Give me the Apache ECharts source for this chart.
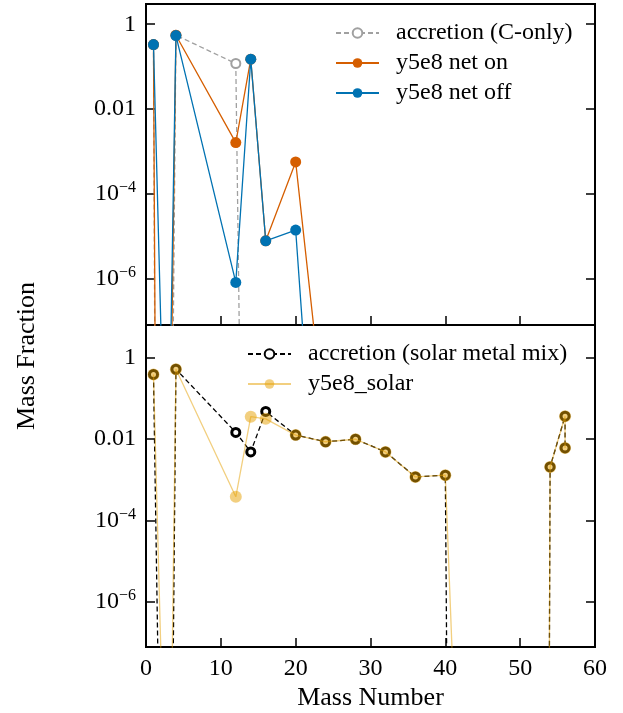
<!DOCTYPE html>
<html>
<head>
<meta charset="utf-8">
<script src="https://cdn.jsdelivr.net/npm/echarts@6/dist/echarts.min.js"></script>
<style>
  html, body { margin: 0; padding: 0; background: #fff; }
  #chart { width: 623px; height: 713px; }
</style>
</head>
<body>
<div id="chart"></div>
<script>
// mass numbers (56 appears twice: two species with A = 56)
const massNumbers = [1, 2, 3, 4, 12, 14, 16, 20, 24, 28, 32, 36, 40, 44, 48, 52, 54, 56, 56];

// top panel
const accretionC = [0.33, 1e-42, 1e-20, 0.55, 0.118, 1e-28, 1e-100, 1e-100, 1e-100, 1e-100, 1e-100, 1e-100, 1e-100, 1e-100, 1e-100, 1e-100, 1e-100, 1e-100, 1e-100];
const netOn = [0.33, 1e-33, 4e-14, 0.55, 1.6e-3, 0.149, 7.7e-6, 5.6e-4, 2e-10, 1e-100, 1e-100, 1e-100, 1e-100, 1e-100, 1e-100, 1e-100, 1e-100, 1e-100, 1e-100];
const netOff = [0.33, 6e-8, 1.6e-11, 0.54, 8e-7, 0.149, 7.7e-6, 1.38e-5, 1.6e-15, 1e-100, 1e-100, 1e-100, 1e-100, 1e-100, 1e-100, 1e-100, 1e-100, 1e-100, 1e-100];

// bottom panel
const accretionSolar = [0.38, 8e-13, 1.6e-20, 0.51, 0.0144, 4.8e-3, 0.047, 0.0124, 8.5e-3, 9.8e-3, 4.8e-3, 1.17e-3, 1.29e-3, 1e-100, 1e-100, 1e-100, 2.05e-3, 0.036, 6.0e-3];
const y5e8Solar = [0.38, 5e-8, 3e-15, 0.51, 3.8e-4, 0.035, 0.031, 0.0124, 8.5e-3, 9.8e-3, 4.8e-3, 1.17e-3, 1.29e-3, 1e-22, 1e-100, 1e-100, 2.05e-3, 0.036, 6.0e-3];

const xTicks = [0, 10, 20, 30, 40, 50, 60];

const FONT = 'Liberation Serif';
const chart = echarts.init(document.getElementById('chart'));

// 把数组拼成 [x, y]
const pairs = vals => massNumbers.map((a, i) => [a, vals[i]]);

// 对数轴标签: 1, 0.01, 10^-4, 10^-6
const logLabel = v => {
  const l = Math.log10(v);
  const e = Math.round(l);
  if (Math.abs(l - e) > 1e-6 || e % 2 !== 0) return '';
  if (e === 0) return '1';
  if (e === -2) return '0.01';
  return '{b|10}{s|\u2212' + (-e) + '}';
};

const labelRich = {
  b: { fontFamily: FONT, fontSize: 24, color: '#000', lineHeight: 26 },
  s: { fontFamily: FONT, fontSize: 16, color: '#000', padding: [0, 0, 12, 0] }
};

const frameTick = { show: true, inside: true, length: 9, lineStyle: { color: '#000', width: 1.5 } };

const yAxisFor = (grid, max, right) => ({
  type: 'log',
  logBase: 100,
  gridIndex: grid,
  position: right ? 'right' : 'left',
  min: 7.9e-8,
  max: max,
  axisLine: { show: false },
  axisTick: frameTick,
  minorTick: { show: false },
  splitLine: { show: false },
  axisLabel: right ? { show: false } : {
    formatter: logLabel,
    margin: 10,
    fontFamily: FONT,
    fontSize: 24,
    color: '#000',
    rich: labelRich
  }
});

const xAxisFor = (grid, labels) => ({
  type: 'value',
  gridIndex: grid,
  min: xTicks[0],
  max: xTicks[xTicks.length - 1],
  interval: 10,
  axisLine: { show: false },
  axisTick: frameTick,
  splitLine: { show: false },
  axisLabel: labels ? { show: true, margin: 10, fontFamily: FONT, fontSize: 24, color: '#000' } : { show: false },
  name: labels ? 'Mass Number' : '',
  nameLocation: 'middle',
  nameGap: 38,
  nameTextStyle: { fontFamily: FONT, fontSize: 26, color: '#000' }
});

const hollow = (name, color, vals, x, y, size, width) => ({
  name: name,
  type: 'line',
  xAxisIndex: x,
  yAxisIndex: y,
  data: pairs(vals),
  symbol: 'circle',
  symbolSize: size,
  showAllSymbol: true,
  itemStyle: { color: '#fff', borderColor: color, borderWidth: width },
  lineStyle: { color: color, width: 1.3, type: [5, 3] },
  z: 2
});

const filled = (name, color, vals, x, y, size, opacity) => ({
  name: name,
  type: 'line',
  xAxisIndex: x,
  yAxisIndex: y,
  data: pairs(vals),
  symbol: 'circle',
  symbolSize: size,
  showAllSymbol: true,
  itemStyle: { color: color, opacity: opacity },
  lineStyle: { color: color, width: 1.3, opacity: opacity },
  z: 3
});

const legendBase = {
  orient: 'vertical',
  padding: 0,
  itemWidth: 43,
  itemHeight: 12,
  itemGap: 6,
  textStyle: { fontFamily: FONT, fontSize: 24, color: '#000', lineHeight: 24, padding: [0, 0, 0, 12] }
};

const option = {
  animation: false,
  backgroundColor: '#fff',
  grid: [
    { left: 146, top: 4, width: 449, height: 321, show: true, borderColor: '#000', borderWidth: 2, backgroundColor: 'transparent' },
    { left: 146, top: 325, width: 449, height: 322, show: true, borderColor: '#000', borderWidth: 2, backgroundColor: 'transparent' }
  ],
  xAxis: [xAxisFor(0, false), xAxisFor(1, true)],
  yAxis: [yAxisFor(0, 3, false), yAxisFor(0, 3, true), yAxisFor(1, 6.2, false), yAxisFor(1, 6.2, true)],
  legend: [
    Object.assign({}, legendBase, { left: 335, top: 21, data: ['accretion (C-only)', 'y5e8 net on', 'y5e8 net off'] }),
    Object.assign({}, legendBase, { left: 247, top: 342, data: ['accretion (solar metal mix)', 'y5e8_solar'] })
  ],
  graphic: [{
    type: 'text',
    x: 27,
    y: 356,
    rotation: Math.PI / 2,
    style: { text: 'Mass Fraction', fontFamily: FONT, fontSize: 26, fill: '#000', align: 'center', verticalAlign: 'middle' }
  }],
  series: [
    hollow('accretion (C-only)', '#a0a0a0', accretionC, 0, 0, 9, 2),
    filled('y5e8 net on', '#D55E00', netOn, 0, 0, 11, 1),
    filled('y5e8 net off', '#0072B2', netOff, 0, 0, 11, 1),
    hollow('accretion (solar metal mix)', '#000', accretionSolar, 1, 2, 8, 3),
    filled('y5e8_solar', '#E69F00', y5e8Solar, 1, 2, 12, 0.5)
  ]
};

chart.setOption(option);
window.addEventListener('resize', () => chart.resize());
</script>
</body>
</html>
